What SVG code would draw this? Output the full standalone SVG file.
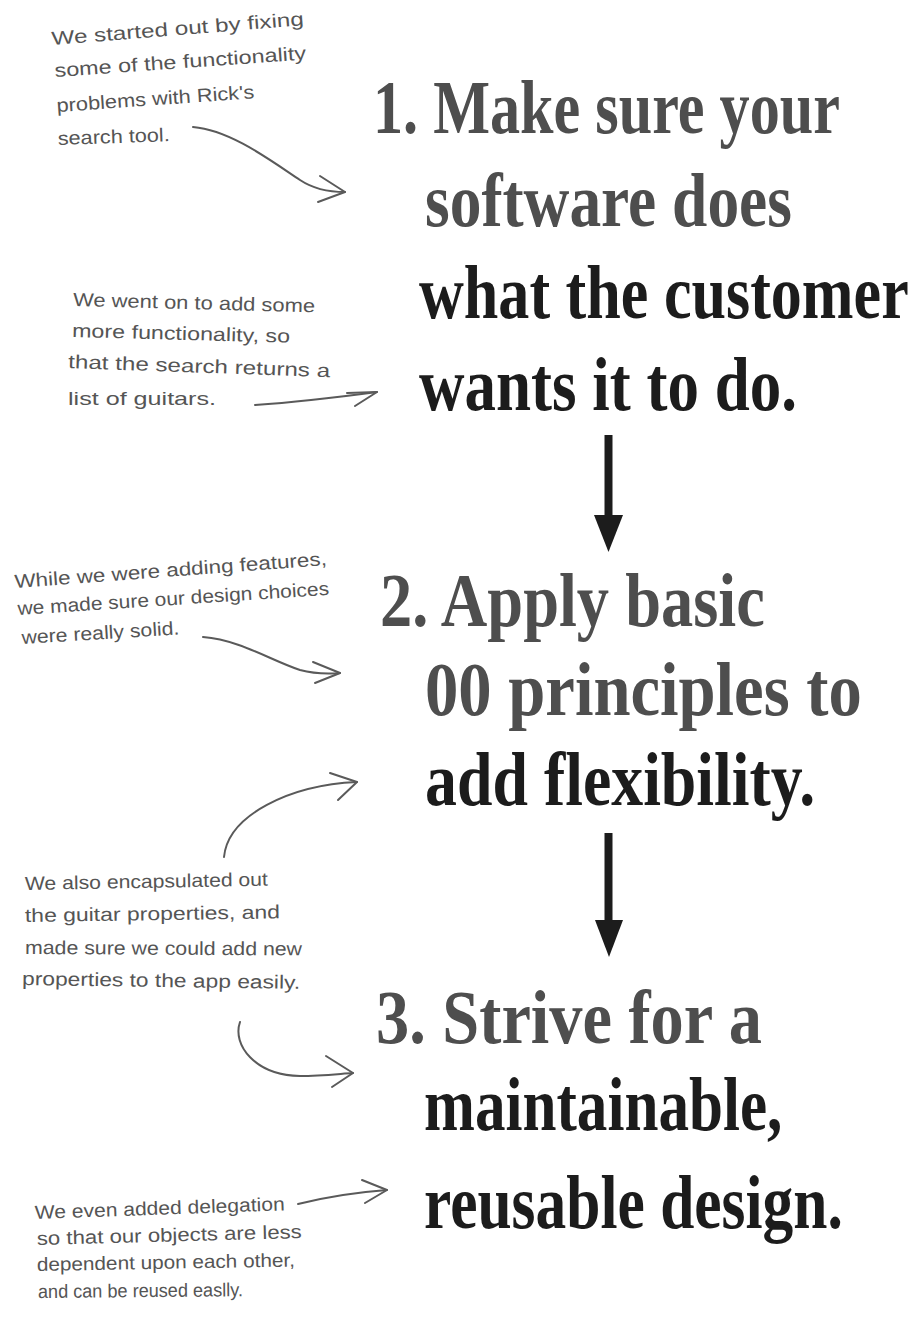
<svg xmlns="http://www.w3.org/2000/svg" width="924" height="1324" viewBox="0 0 924 1324">
<style>
.h{font-family:"Liberation Serif","Times New Roman",serif;font-weight:bold;font-size:76px}
.g{fill:#4e4e4e}
.k{fill:#1c1c1c}
.n{font-family:"Liberation Sans",Arial,sans-serif;font-size:19px;fill:#555}
.c{fill:none;stroke:#5a5a5a;stroke-width:2;stroke-linecap:round;stroke-linejoin:round}
.b{stroke:#1c1c1c;stroke-width:8}
.bh{fill:#1c1c1c}
</style>
<rect width="924" height="1324" fill="#fff"/>

<g id="step1">
<text class="h g" transform="translate(373,133) scale(0.79,1)" textLength="591" lengthAdjust="spacingAndGlyphs">1. Make sure your</text>
<text class="h g" transform="translate(425,226) scale(0.832,1)" textLength="441" lengthAdjust="spacingAndGlyphs">software does</text>
<text class="h k" transform="translate(419,318) scale(0.8175,1)" textLength="599" lengthAdjust="spacingAndGlyphs">what the customer</text>
<text class="h k" transform="translate(419,410) scale(0.829,1)" textLength="456" lengthAdjust="spacingAndGlyphs">wants it to do.</text>
</g>
<g id="step2">
<text class="h g" transform="translate(380,626) scale(0.840,1)" textLength="458" lengthAdjust="spacingAndGlyphs">2. Apply basic</text>
<text class="h g" transform="translate(425,715) scale(0.877,1)" textLength="498" lengthAdjust="spacingAndGlyphs">00 principles to</text>
<text class="h k" transform="translate(425,805) scale(0.832,1)" textLength="469" lengthAdjust="spacingAndGlyphs">add flexibility.</text>
</g>
<g id="step3">
<text class="h g" transform="translate(376,1043) scale(0.871,1)" textLength="443" lengthAdjust="spacingAndGlyphs">3. Strive for a</text>
<text class="h k" transform="translate(424,1130) scale(0.8035,1)" textLength="446" lengthAdjust="spacingAndGlyphs">maintainable,</text>
<text class="h k" transform="translate(424,1228) scale(0.807,1)" textLength="519" lengthAdjust="spacingAndGlyphs">reusable design.</text>
</g>

<g id="note1">
<text class="n" transform="translate(52,45) rotate(-4.5)" textLength="253" lengthAdjust="spacingAndGlyphs">We started out by fixing</text>
<text class="n" transform="translate(55,77) rotate(-4)" textLength="252" lengthAdjust="spacingAndGlyphs">some of the functionality</text>
<text class="n" transform="translate(57,112) rotate(-4)" textLength="198" lengthAdjust="spacingAndGlyphs">problems with Rick's</text>
<text class="n" transform="translate(58,145) rotate(-2)" textLength="112" lengthAdjust="spacingAndGlyphs">search tool.</text>
</g>
<g id="note2">
<text class="n" transform="translate(73,306) rotate(1.5)" textLength="242" lengthAdjust="spacingAndGlyphs">We went on to add some</text>
<text class="n" transform="translate(72,337) rotate(1.5)" textLength="218" lengthAdjust="spacingAndGlyphs">more functionality, so</text>
<text class="n" transform="translate(68,368) rotate(2)" textLength="262" lengthAdjust="spacingAndGlyphs">that the search returns a</text>
<text class="n" transform="translate(68,405) rotate(0)" textLength="148" lengthAdjust="spacingAndGlyphs">list of guitars.</text>
</g>
<g id="note3">
<text class="n" transform="translate(15,588) rotate(-4.2)" textLength="313" lengthAdjust="spacingAndGlyphs">While we were adding features,</text>
<text class="n" transform="translate(18,615) rotate(-3.7)" textLength="312" lengthAdjust="spacingAndGlyphs">we made sure our design choices</text>
<text class="n" transform="translate(22,644) rotate(-3.5)" textLength="158" lengthAdjust="spacingAndGlyphs">were really solid.</text>
</g>
<g id="note4">
<text class="n" transform="translate(25,890) rotate(-1)" textLength="243" lengthAdjust="spacingAndGlyphs">We also encapsulated out</text>
<text class="n" transform="translate(25,922) rotate(-0.8)" textLength="255" lengthAdjust="spacingAndGlyphs">the guitar properties, and</text>
<text class="n" transform="translate(25,954) rotate(0.3)" textLength="277" lengthAdjust="spacingAndGlyphs">made sure we could add new</text>
<text class="n" transform="translate(22,985) rotate(0.8)" textLength="278" lengthAdjust="spacingAndGlyphs">properties to the app easily.</text>
</g>
<g id="note5">
<text class="n" transform="translate(35,1219) rotate(-2)" textLength="250" lengthAdjust="spacingAndGlyphs">We even added delegation</text>
<text class="n" transform="translate(37,1245) rotate(-1.5)" textLength="265" lengthAdjust="spacingAndGlyphs">so that our objects are less</text>
<text class="n" transform="translate(37,1271) rotate(-1)" textLength="258" lengthAdjust="spacingAndGlyphs">dependent upon each other,</text>
<text class="n" transform="translate(38,1298) rotate(-0.5)" textLength="205" lengthAdjust="spacingAndGlyphs">and can be reused easlly.</text>
</g>

<g id="connectors">
<line class="b" x1="608.5" y1="435" x2="608.5" y2="517"/>
<polygon class="bh" points="594,515 623,515 608.5,552"/>
<line class="b" x1="608.5" y1="833" x2="608.5" y2="922"/>
<polygon class="bh" points="595,920 623,920 609,957"/>
<path class="c" d="M193,127 C230,130 270,160 300,180 C315,190 330,192 345,192"/>
<path class="c" d="M320,176 L345,192 L318,202"/>
<path class="c" d="M255,405 C300,402 340,397 377,392"/>
<path class="c" d="M347,393 L377,392 L355,406"/>
<path class="c" d="M203,637 C240,640 270,660 300,670 C315,674 328,674 340,673"/>
<path class="c" d="M313,662 L340,673 L315,683"/>
<path class="c" d="M224,857 C228,815 290,785 357,782"/>
<path class="c" d="M330,773 L357,782 L338,800"/>
<path class="c" d="M240,1022 C232,1045 255,1075 300,1076 C320,1076 338,1074 353,1073"/>
<path class="c" d="M326,1056 L353,1073 L332,1087"/>
<path class="c" d="M298,1204 C330,1196 360,1192 387,1190"/>
<path class="c" d="M362,1180 L387,1190 L365,1203"/>
</g>
</svg>
